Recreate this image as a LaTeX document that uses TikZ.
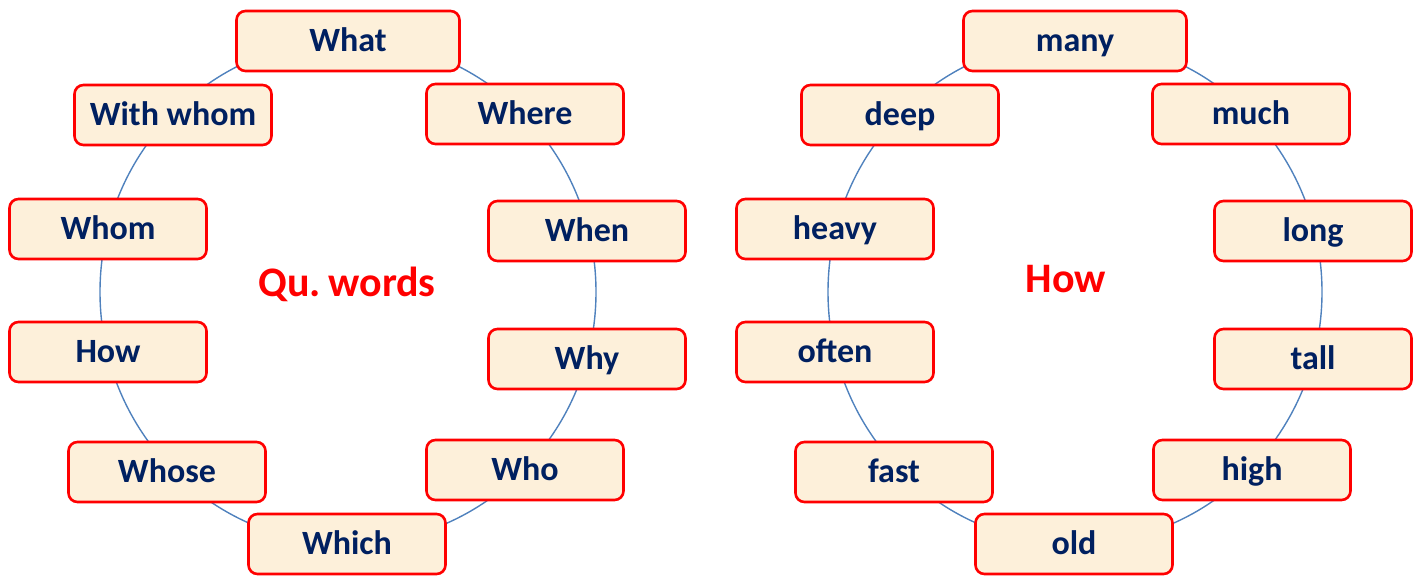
\documentclass[tikz,border=0pt]{standalone}
\usepackage{fontspec}
\setmainfont{Carlito}
\definecolor{navy}{HTML}{002060}
\definecolor{cream}{HTML}{FDF0DA}
\definecolor{ringblue}{HTML}{4F81BD}
\tikzset{
  wbox/.style={draw=red, line width=2.6pt, fill=cream, rounded corners=9pt,
    minimum width=#1, minimum height=60pt, inner sep=0pt,
    text height=24pt, text depth=3pt,
    font=\fontsize{34}{40}\selectfont\bfseries, text=navy},
  wbox/.default=197pt,
  title/.style={font=\fontsize{42}{48}\selectfont\bfseries, text=red,
    inner sep=0pt, text height=28pt, text depth=6pt},
  ring/.style={draw=ringblue, line width=1.4pt}
}
\begin{document}
\begin{tikzpicture}[x=1pt,y=-1pt]
\useasboundingbox (0,0) rectangle (1422,578);
\draw[ring] (348,292) ellipse [x radius=248, y radius=252];
\draw[ring] (1075,292) ellipse [x radius=247, y radius=252];
% left
\node[wbox=223pt] (what) at (348,41) {What};
\node[wbox] (withwhom) at (173,115) {With whom};
\node[wbox] (where) at (525,114) {Where};
\node[wbox] (whom) at (108,229) {Whom};
\node[wbox] (when) at (587,231) {When};
\node[wbox] (how) at (108,352) {How};
\node[wbox] (why) at (587,359) {Why};
\node[wbox] (whose) at (167,472) {Whose};
\node[wbox] (who) at (525,470) {Who};
\node[wbox] (which) at (347,544) {Which};
\node[title] (qu) at (347,285) {Qu.\hspace{0.18em}words};
% right
\node[wbox=223pt] (many) at (1075,41) {many};
\node[wbox] (deep) at (900,115) {deep};
\node[wbox] (much) at (1251,114) {much};
\node[wbox] (heavy) at (835,229) {heavy};
\node[wbox] (long) at (1313,231) {long};
\node[wbox] (often) at (835,352) {often};
\node[wbox] (tall) at (1313,359) {tall};
\node[wbox] (fast) at (894,472) {fast};
\node[wbox] (high) at (1252,470) {high};
\node[wbox] (old) at (1074,544) {old};
\node[title] (howt) at (1066,281) {How};
\end{tikzpicture}
\end{document}
